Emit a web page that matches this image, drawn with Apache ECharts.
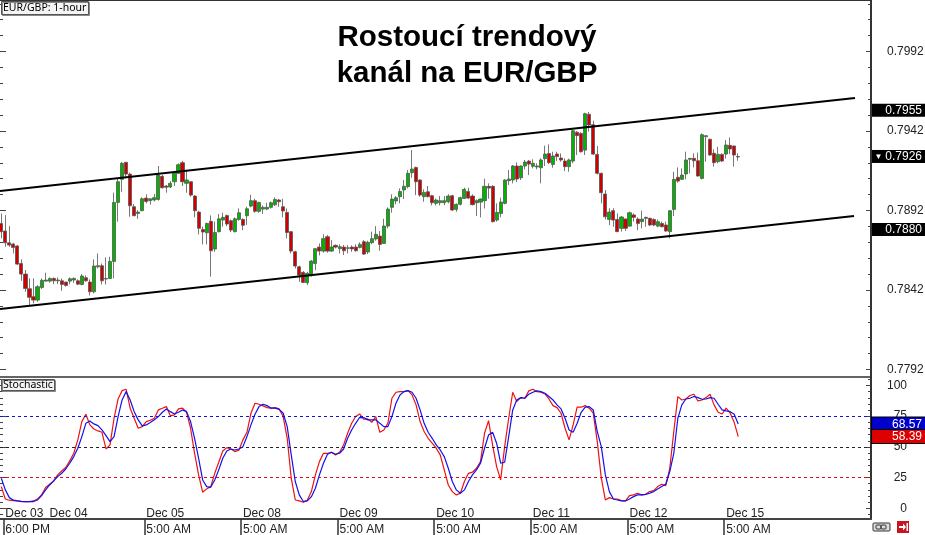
<!DOCTYPE html>
<html><head><meta charset="utf-8">
<style>html,body{margin:0;padding:0;background:#fff}#c{width:925px;height:535px}</style>
<script src="https://cdn.jsdelivr.net/npm/echarts@6/dist/echarts.min.js"></script>
</head><body><div id="c"></div>
<script>
// Prices in points (1 point = 0.00001)
const opens = [
78839,78791,78717,78709,78697,78587,78520,78428,78378,78357,
78436,78476,78476,78493,78478,78478,78470,78476,78483,78478,
78455,78497,78470,78409,78566,78573,78489,78493,78600,78971,
79116,79223,79149,78944,78902,78919,78998,78982,78986,78990,
79135,79074,79068,79101,79154,79221,79091,79101,79011,78910,
78801,78780,78852,78678,78787,78860,78889,78856,78787,78864,
78864,78887,78948,78982,78915,78929,78929,78940,78956,78986,
78944,78908,78787,78661,78566,78531,78466,78514,78587,78690,
78665,78755,78665,78701,78680,78690,78682,78690,78690,78688,
78724,78659,78718,78741,78759,78713,78822,78940,78980,79007,
79049,79070,79158,79191,79112,79007,79038,79013,78965,78969,
78969,78975,79013,78927,78959,78996,79040,79011,78969,78973,
78982,79072,79072,78860,78902,78965,79108,79112,79200,79126,
79200,79231,79198,79194,79189,79246,79279,79210,79275,79250,
79231,79196,79231,79412,79405,79300,79525,79460,79273,79154,
79024,78864,78919,78864,78808,78866,78822,78892,78866,78850,
78877,78871,78864,78822,78839,78829,78787,78927,79129,79116,
79150,79242,79248,79233,79122,79384,79368,79280,79227,79273,
79275,79330,79326,79259];
const closes = [
78787,78717,78703,78688,78583,78520,78430,78374,78357,78441,
78481,78483,78493,78478,78483,78455,78449,78491,78493,78457,
78508,78478,78409,78571,78573,78478,78493,78600,78971,79101,
79217,79149,78950,78887,78910,78994,78977,78994,79001,79143,
79063,79066,79091,79154,79208,79101,79112,79017,78919,78808,
78785,78839,78667,78782,78868,78877,78835,78797,78868,78906,
78827,78931,78982,78915,78971,78940,78940,78969,78990,78975,
78917,78782,78665,78571,78514,78468,78525,78602,78680,78665,
78743,78665,78690,78690,78692,78667,78686,78678,78667,78707,
78646,78720,78743,78770,78707,78822,78929,78992,79001,79040,
79072,79154,79181,79101,79017,79034,79007,78969,78986,78982,
78982,79011,78923,78959,79001,79053,78998,78957,78982,78992,
79072,79061,78850,78908,78973,79112,79118,79200,79118,79200,
79225,79212,79217,79200,79238,79275,79221,79263,79259,79238,
79196,79238,79422,79391,79290,79529,79458,79275,79154,79032,
78881,78910,78860,78787,78879,78808,78906,78877,78839,78866,
78871,78829,78829,78850,78818,78791,78919,79116,79105,79143,
79238,79248,79233,79137,79397,79391,79269,79221,79273,79231,
79332,79307,79269,79257];
const lows = [
78745,78692,78692,78650,78577,78478,78409,78325,78336,78346,
78426,78472,78466,78457,78457,78415,78441,78457,78466,78451,
78449,78472,78386,78399,78556,78455,78455,78489,78493,78850,
79038,79122,78881,78887,78868,78915,78965,78957,78977,78982,
79059,79032,79061,79074,79149,79074,79032,79007,78877,78770,
78707,78707,78504,78661,78782,78818,78822,78785,78782,78856,
78797,78829,78940,78906,78906,78898,78923,78933,78948,78944,
78877,78745,78650,78556,78472,78466,78451,78504,78545,78638,
78655,78655,78659,78682,78650,78640,78650,78661,78661,78682,
78640,78646,78709,78730,78667,78709,78808,78906,78959,78965,
78992,79059,79126,79017,79007,78975,79003,78952,78952,78952,
78954,78965,78917,78912,78952,78992,78992,78952,78885,78877,
78933,78994,78845,78850,78877,78959,79080,79091,79099,79112,
79179,79143,79185,79179,79091,79200,79212,79189,79231,79227,
79168,79164,79217,79269,79284,79269,79416,79269,79147,78965,
78864,78829,78818,78787,78787,78791,78818,78850,78797,78808,
78818,78822,78822,78814,78814,78787,78745,78885,79095,79112,
79116,79154,79191,79133,79116,79227,79265,79196,79217,79225,
79248,79275,79196,79233];
const highs = [
78902,78892,78822,78717,78703,78613,78546,78493,78493,78451,
78493,78529,78499,78499,78499,78493,78472,78499,78499,78487,
78520,78512,78487,78613,78650,78587,78625,78629,79032,79122,
79225,79225,79158,78961,78923,79003,79022,78998,79024,79200,
79143,79080,79105,79164,79217,79233,79175,79105,79017,78919,
78818,78843,78889,78850,78898,78906,78894,78864,78877,78933,
78871,78944,79019,78994,78975,78952,78969,78977,79003,78994,
78994,78933,78791,78667,78573,78539,78535,78608,78684,78713,
78770,78766,78734,78707,78707,78703,78703,78701,78707,78720,
78734,78730,78787,78822,78791,78868,78940,79022,79011,79059,
79112,79175,79300,79196,79116,79053,79074,79019,78996,79011,
79011,79022,79019,78965,79007,79063,79063,79022,78990,78996,
79120,79091,79080,78965,79001,79116,79175,79206,79223,79204,
79238,79238,79242,79217,79248,79328,79336,79290,79290,79279,
79248,79246,79430,79420,79412,79535,79540,79485,79326,79158,
79049,78934,78934,78902,78885,78871,78913,78902,78877,78919,
78881,78875,78871,78864,78850,78850,78923,79164,79191,79185,
79290,79248,79280,79284,79405,79391,79372,79305,79321,79280,
79363,79380,79328,79280];

const stochRed = [
17.7,7.6,6.6,6.3,6.0,5.5,5.5,5.5,6.0,7.6,
10.9,16.9,19.6,22.3,27.2,30.4,33.2,38.6,44.8,55.7,
70.6,76.6,67.9,64.6,63,61.9,48.3,51.6,73.3,89,
95.8,96.9,81.5,73.3,65.2,66.5,70.6,71.7,73.3,80.1,
81.5,82.8,75.2,76,80.9,81.5,78.2,65.2,44.8,27.2,
13.1,15.8,17.7,28.5,37.5,46.7,49.4,48.3,46.2,47.3,
55.7,61.9,77.4,85.5,84.7,83.4,82,81.5,82,80.9,
74.7,57,24.5,6.8,6,4.9,6.8,13.6,27.2,38,
44.8,44.8,45.6,43.5,45.6,51.6,61.1,69.2,74.7,76.8,
72.5,72.8,70,74.7,61.9,63.8,69.2,89.6,94.5,95,
95,95.8,92.3,84.2,70.6,62.5,57,53,48.9,43.5,
31.3,19,13.6,10.9,12.3,21.8,28.5,29.4,32.6,38,
61.1,71.4,51.6,34,23.1,50.2,73.3,94.5,86.9,90.1,
89.6,95.6,96.9,95,94.5,93.1,89,83.6,82,77.4,
65.2,55.7,67.9,82.3,82.3,83.6,81.5,77.4,54.3,24.5,
6.8,8.7,7.6,7.6,6.3,6,10.4,10.9,12.3,10.9,
11.4,13.6,14.4,17.7,19.6,18.5,32.6,62.5,90.9,88.2,
89,91.8,92.9,87.4,88.2,90.1,92.9,84.2,78.2,76.8,
81.5,77.4,70,58.39];
const stochBlue = [
24.5,15,8.7,6.6,6,5.7,5.5,5.5,5.5,6.8,
10.4,15,19,22.3,25.8,28.5,32,36.7,42.1,48.9,
58.4,69.2,71.1,68.7,67.3,63.8,59.2,54.3,58.4,74.7,
88.2,95,88.2,78.7,72,67.1,67.9,69.8,72,74.7,
78.2,80.9,78.7,76.8,78.2,80.1,78.7,70.6,57,40.7,
23.1,17.7,17.1,23.1,31.3,40.7,46.7,48.3,47.5,48.3,
50.2,58.4,67.9,76.6,82.8,84.7,83.6,81.5,81.5,80.6,
77.4,66.5,43.5,21.8,10.9,5.5,6,9.5,16.3,27.2,
36.7,44,45.6,44,44.8,48.3,57,63.8,69.2,74.1,
73.9,72,72,72,69.2,66.5,66.5,74.7,85.5,92.3,
95,95.8,94.5,89.6,80.1,69.2,61.9,57,51.6,47.5,
42.1,32.6,21.8,15,12.3,15,21.8,27.2,31.3,36.7,
48.9,59.7,61.9,53,36.7,37.5,58.4,80.1,88.2,90.1,
89.6,92.9,94.5,95.6,95,93.7,91,88.2,84.2,80.9,
73.3,63.8,61.9,69.2,78.2,82.3,82.8,80.1,62.5,50.2,
27.2,13.6,7.6,6.8,6,6,7.6,9.5,10.9,10.9,
11.4,12.3,13.6,15.8,17.7,19.6,29.9,44.8,73.3,84.2,
89,89.6,91,90.1,88.8,89,90.1,89.6,84.7,80.1,
79.3,78.7,76.6,68.57];

// Trend channel end points: [bar index, price]
const channelUpper = [[-0.32, 0.79043], [212, 0.79628]];
const channelLower = [[-0.32, 0.78300], [211.75, 0.78885]];

const timeTicks  = [0.5, 11.5, 35.5, 59.5, 83.5, 107.5, 131.5, 155.5, 179.5];
const dateLabels = ['Dec 03','Dec 04','Dec 05','Dec 08','Dec 09','Dec 10','Dec 11','Dec 12','Dec 15'];
const timeLabels = ['6:00 PM','5:00 AM','5:00 AM','5:00 AM','5:00 AM','5:00 AM','5:00 AM','5:00 AM','5:00 AM'];
const priceLabels = [0.7792, 0.7842, 0.7892, 0.7942, 0.7992];
const priceMinor = [0.7782,0.7792,0.7802,0.7812,0.7822,0.7832,0.7842,0.7852,0.7862,0.7872,0.7882,0.7892,0.7902,0.7912,0.7922,0.7932,0.7942,0.7952,0.7962,0.7972,0.7982,0.7992,0.8002,0.8012,0.8022];
const priceTags = [0.7955, 0.7880];
const lastPriceTag = [0.7926];
const stochLabels = [0, 25, 50, 75, 100];
const stochMinor = [-5,0,5,10,15,20,25,30,35,40,45,50,55,60,65,70,75,80,85,90,95,100,105];
const stochTags = {blue: 68.57, red: 58.39};
const stochLevels = [[75,'#1010e0'],[50,'#222222'],[25,'#e01010']];

const FONT = '"Liberation Sans", Arial, sans-serif';
const AX = '#333333';
const X_MIN = -0.323, X_MAX = 215.97;
const P_MIN = 0.77873, P_MAX = 0.80244;
const S_MIN = -8.7, S_MAX = 106.9;

const candleData = opens.map((o, i) => [i, o / 1e5, closes[i] / 1e5, lows[i] / 1e5, highs[i] / 1e5]);

function yAx(grid, min, max, position, values, len, withLine, label) {
  return {
    type: 'value', gridIndex: grid, min, max, position,
    axisLine: {show: !!withLine, onZero: false, lineStyle: {color: AX, width: 2}},
    axisTick: {show: !!len, inside: true, length: len || 0, customValues: values, lineStyle: {color: '#444', width: 1}},
    splitLine: {show: false},
    axisLabel: label || {show: false}
  };
}
const plainLabel = (vals, fmt, extra) => Object.assign({
  show: true, customValues: vals, formatter: fmt, color: '#222', fontSize: 12, fontFamily: FONT,
  hideOverlap: false, showMinLabel: true, showMaxLabel: true
}, extra);
const tagRich = (bg, border) => ({
  box: {width: 50, height: 12, lineHeight: 12, align: 'right', color: '#fff', fontSize: 12, fontFamily: FONT,
        backgroundColor: bg, padding: [1, 3, 0, 0], borderColor: border, borderWidth: border ? 1 : 0}
});

const option = {
  animation: false,
  backgroundColor: '#fff',
  title: [
    {text: 'Rostoucí trendový\nkanál na EUR/GBP', left: 467, top: 20, textAlign: 'center', padding: 0,
     textStyle: {fontFamily: FONT, fontSize: 29.5, fontWeight: 'bold', color: '#000', lineHeight: 36}},
    {text: 'EUR/GBP: 1-hour', left: 1, top: 1, padding: [1, 2, 1, 2], backgroundColor: '#f4f4f4', borderColor: '#555', borderWidth: 1,
     shadowColor: '#888', shadowOffsetX: 1, shadowOffsetY: 1, shadowBlur: 0,
     textStyle: {fontFamily: '"Noto Sans"', fontSize: 10.5, fontWeight: 'normal', color: '#000', lineHeight: 12}},
    {text: 'Stochastic', left: 1, top: 379, padding: [0, 2, 0, 2], backgroundColor: '#f4f4f4', borderColor: '#555', borderWidth: 1,
     shadowColor: '#888', shadowOffsetX: 1, shadowOffsetY: 1, shadowBlur: 0,
     textStyle: {fontFamily: '"Noto Sans"', fontSize: 10.5, fontWeight: 'normal', color: '#000', lineHeight: 12}}
  ],
  grid: [
    {left: 0, top: 0, width: 871, height: 377, outerBoundsMode: 'none'},
    {left: 0, top: 377, width: 871, height: 142, outerBoundsMode: 'none'}
  ],
  xAxis: [
    {type: 'value', gridIndex: 0, min: X_MIN, max: X_MAX, position: 'top', splitLine: {show: false},
     axisLine: {onZero: false, lineStyle: {color: AX, width: 2}}, axisTick: {show: false}, axisLabel: {show: false}},
    {type: 'value', gridIndex: 0, min: X_MIN, max: X_MAX, position: 'bottom', splitLine: {show: false},
     axisLine: {onZero: false, lineStyle: {color: AX, width: 1.5}}, axisTick: {show: false}, axisLabel: {show: false}},
    {type: 'value', gridIndex: 1, min: X_MIN, max: X_MAX, position: 'bottom', splitLine: {show: false},
     axisLine: {onZero: false, lineStyle: {color: '#444', width: 2}},
     axisTick: {show: true, length: 16, customValues: timeTicks, lineStyle: {color: '#333', width: 1.5}},
     axisLabel: plainLabel(timeTicks, v => timeLabels[timeTicks.indexOf(v)], {align: 'left', margin: 5, padding: [0, 0, 0, 2]})},
    {type: 'value', gridIndex: 1, min: X_MIN, max: X_MAX, position: 'bottom', splitLine: {show: false},
     axisLine: {show: false, onZero: false}, axisTick: {show: false},
     axisLabel: plainLabel(timeTicks, v => dateLabels[timeTicks.indexOf(v)], {inside: true, align: 'left', margin: -1, padding: [0, 0, 0, 2]})}
  ],
  yAxis: [
    yAx(0, P_MIN, P_MAX, 'right', priceLabels, 5, true, plainLabel(priceLabels, v => v.toFixed(4), {margin: 16, padding: [2, 0, 0, 0]})),
    yAx(0, P_MIN, P_MAX, 'right', priceMinor, 3),
    yAx(0, P_MIN, P_MAX, 'left', priceMinor, 3),
    yAx(0, P_MIN, P_MAX, 'left', priceLabels, 6),
    yAx(0, P_MIN, P_MAX, 'right', priceTags, 0, false, plainLabel(priceTags, v => '{box|' + v.toFixed(4) + '}', {margin: 1, rich: tagRich('#000')})),
    yAx(0, P_MIN, P_MAX, 'right', lastPriceTag, 0, false, plainLabel(lastPriceTag, v => '{t|▼}{box|' + v.toFixed(4) + '}', {margin: 1, rich: {
      t: {width: 13, height: 12, lineHeight: 12, color: '#fff', fontSize: 8, align: 'center', backgroundColor: '#000', padding: [1, 0, 0, 0]},
      box: {width: 37, height: 12, lineHeight: 12, align: 'right', color: '#fff', fontSize: 12, fontFamily: FONT, backgroundColor: '#000', padding: [1, 3, 0, 0]}
    }})),
    yAx(1, S_MIN, S_MAX, 'right', stochLabels, 5, true, plainLabel(stochLabels, v => String(v), {margin: 36, align: 'right'})),
    yAx(1, S_MIN, S_MAX, 'right', stochMinor, 3),
    yAx(1, S_MIN, S_MAX, 'left', stochMinor, 3),
    yAx(1, S_MIN, S_MAX, 'left', stochLabels, 6),
    yAx(1, S_MIN, S_MAX, 'right', [stochTags.blue], 0, false, plainLabel([stochTags.blue], v => '{box|' + v.toFixed(2) + '}', {margin: 1, rich: tagRich('#0000cc', '#000')})),
    yAx(1, S_MIN, S_MAX, 'right', [stochTags.red], 0, false, plainLabel([stochTags.red], v => '{box|' + v.toFixed(2) + '}', {margin: 1, rich: tagRich('#dd0000', '#000')}))
  ],
  series: [
    {type: 'candlestick', xAxisIndex: 0, yAxisIndex: 0, data: candleData, encode: {x: 0, y: [1, 2, 3, 4]}, barWidth: 3.6, z: 3,
     itemStyle: {color: '#00b400', color0: '#d00000', borderColor: '#555555', borderColor0: '#555555', borderWidth: 0.8}},
    {type: 'line', name: 'upper', xAxisIndex: 0, yAxisIndex: 0, data: channelUpper, showSymbol: false, symbol: 'none', z: 4,
     lineStyle: {color: '#000', width: 2}},
    {type: 'line', name: 'lower', xAxisIndex: 0, yAxisIndex: 0, data: channelLower, showSymbol: false, symbol: 'none', z: 4,
     lineStyle: {color: '#000', width: 2}},
    {type: 'line', name: 'levels', xAxisIndex: 2, yAxisIndex: 6, data: [], symbol: 'none', silent: true,
     markLine: {silent: true, symbol: 'none', label: {show: false}, animation: false,
       data: stochLevels.map(l => ({yAxis: l[0], lineStyle: {color: l[1], width: 1, type: [3, 3]}}))}},
    {type: 'line', name: 'red', xAxisIndex: 2, yAxisIndex: 6, data: stochRed.map((v, i) => [i, v]), symbol: 'none', z: 4,
     lineStyle: {color: '#ee1111', width: 1.2}},
    {type: 'line', name: 'blue', xAxisIndex: 2, yAxisIndex: 6, data: stochBlue.map((v, i) => [i, v]), symbol: 'none', z: 5,
     lineStyle: {color: '#1111ee', width: 1.2}}
  ],
  graphic: [
    {type: 'rect', shape: {x: 873, y: 523, width: 17, height: 8, r: 1}, style: {fill: '#ddd', stroke: '#333', lineWidth: 1}},
    {type: 'rect', shape: {x: 876, y: 525, width: 5, height: 4, r: 1}, style: {fill: 'none', stroke: '#333', lineWidth: 1}},
    {type: 'rect', shape: {x: 881, y: 525, width: 5, height: 4, r: 1}, style: {fill: 'none', stroke: '#333', lineWidth: 1}},
    {type: 'rect', shape: {x: 897, y: 521, width: 12, height: 12}, style: {fill: '#c8141e'}},
    {type: 'polyline', shape: {points: [[899, 527], [904, 527]]}, style: {stroke: '#fff', lineWidth: 2, fill: 'none'}},
    {type: 'polygon', shape: {points: [[903, 523.5], [906, 527], [903, 530.5]]}, style: {fill: '#fff'}},
    {type: 'rect', shape: {x: 906.5, y: 523, width: 1.5, height: 8}, style: {fill: '#fff'}}
  ]
};
const chart = echarts.init(document.getElementById('c'), null, {renderer: 'canvas'});
chart.setOption(option);
</script></body></html>
